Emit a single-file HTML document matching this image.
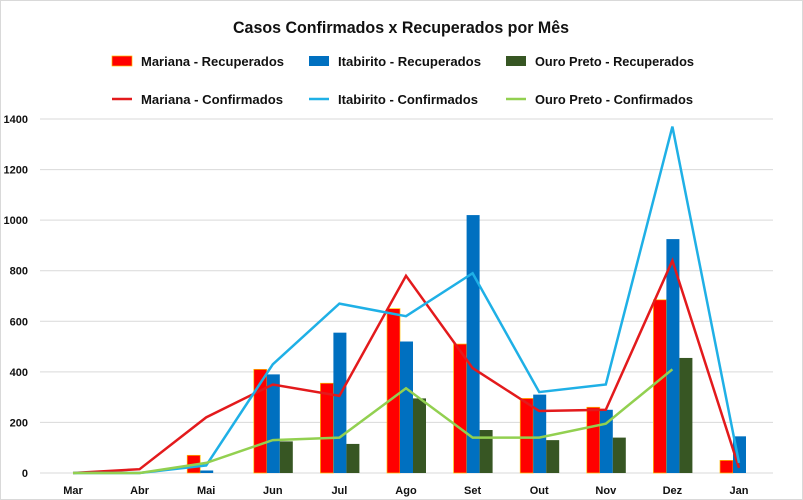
<!DOCTYPE html>
<html><head><meta charset="utf-8"><style>
html,body{margin:0;padding:0;background:#fff;}
svg{display:block;font-family:"Liberation Sans",sans-serif;}
</style></head><body>
<svg id="c" width="803" height="500" xmlns="http://www.w3.org/2000/svg">
<rect x="0.5" y="0.5" width="802" height="499" fill="#fff" stroke="#d9d9d9"/>
<text x="401" y="33" text-anchor="middle" font-size="17" font-weight="bold" fill="#111" textLength="336" lengthAdjust="spacingAndGlyphs">Casos Confirmados x Recuperados por Mês</text>
<rect x="112" y="56" width="20" height="10" fill="#ff0000" stroke="#ffc000" stroke-width="0.7"/>
<text x="141" y="66" font-size="13" font-weight="bold" fill="#111" textLength="143" lengthAdjust="spacingAndGlyphs">Mariana - Recuperados</text>
<rect x="309" y="56" width="20" height="10" fill="#0070c0"/>
<text x="338" y="66" font-size="13" font-weight="bold" fill="#111" textLength="143" lengthAdjust="spacingAndGlyphs">Itabirito - Recuperados</text>
<rect x="506" y="56" width="20" height="10" fill="#375623"/>
<text x="535" y="66" font-size="13" font-weight="bold" fill="#111" textLength="159" lengthAdjust="spacingAndGlyphs">Ouro Preto - Recuperados</text>
<line x1="112" y1="99" x2="132" y2="99" stroke="#e31a1c" stroke-width="2.5"/>
<text x="141" y="104" font-size="13" font-weight="bold" fill="#111" textLength="142" lengthAdjust="spacingAndGlyphs">Mariana - Confirmados</text>
<line x1="309" y1="99" x2="329" y2="99" stroke="#1fb0e6" stroke-width="2.5"/>
<text x="338" y="104" font-size="13" font-weight="bold" fill="#111" textLength="140" lengthAdjust="spacingAndGlyphs">Itabirito - Confirmados</text>
<line x1="506" y1="99" x2="526" y2="99" stroke="#92d050" stroke-width="2.5"/>
<text x="535" y="104" font-size="13" font-weight="bold" fill="#111" textLength="158" lengthAdjust="spacingAndGlyphs">Ouro Preto - Confirmados</text>
<g id="g"></g>
</svg>
<script>
var g=document.getElementById('g'),s='';
function Y(v){return 473-v*354/1400;}
for(var i=0;i<=7;i++){var y=Y(i*200);s+='<line x1="40" x2="773" y1="'+y+'" y2="'+y+'" stroke="#d9d9d9" stroke-width="1"/>';
s+='<text x="28" y="'+(y+4)+'" text-anchor="end" font-size="11" font-weight="bold" fill="#111">'+(i*200)+'</text>';}
var m=['Mar','Abr','Mai','Jun','Jul','Ago','Set','Out','Nov','Dez','Jan'];
function X(i){return 73+i*66.6;}
m.forEach(function(t,i){s+='<text x="'+X(i)+'" y="494" text-anchor="middle" font-size="11" font-weight="bold" fill="#111">'+t+'</text>';});
var rb=[0,0,70,410,355,650,510,295,260,685,50],bb=[0,0,10,390,555,520,1020,310,250,925,145],gb=[0,0,0,125,115,295,170,130,140,455,0];
for(var i=0;i<11;i++){var x=X(i);
if(rb[i])s+='<rect x="'+(x-19)+'" y="'+Y(rb[i])+'" width="13" height="'+(rb[i]*354/1400)+'" fill="#ff0000" stroke="#ffc000" stroke-width="0.7"/>';
if(bb[i])s+='<rect x="'+(x-6)+'" y="'+Y(bb[i])+'" width="13" height="'+(bb[i]*354/1400)+'" fill="#0070c0"/>';
if(gb[i])s+='<rect x="'+(x+7)+'" y="'+Y(gb[i])+'" width="13" height="'+(gb[i]*354/1400)+'" fill="#375623"/>';}
function L(d,c){var p=d.map(function(v,i){return X(i)+','+Y(v);}).join(' ');s+='<polyline points="'+p+'" fill="none" stroke="'+c+'" stroke-width="2.5" stroke-linejoin="miter"/>';}
L([0,15,220,350,305,780,415,245,250,840,20],'#e31a1c');
L([0,0,30,430,670,620,790,320,350,1370,40],'#1fb0e6');
L([0,0,40,130,140,335,140,140,195,410],'#92d050');
g.innerHTML=s;
</script>
</body></html>
